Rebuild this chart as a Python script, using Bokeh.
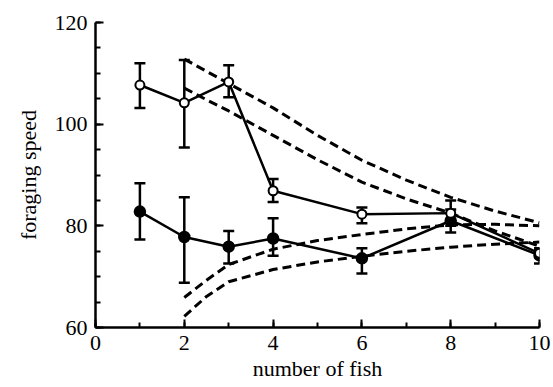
from bokeh.plotting import figure
from bokeh.models import ColumnDataSource, Whisker, TeeHead, Range1d, SingleIntervalTicker
from bokeh.embed import file_html
from bokeh.resources import INLINE

# data
fish = [1, 2, 3, 4, 6, 8, 10]
open_mean = [107.7, 104.2, 108.3, 86.9, 82.3, 82.5, 74.6]
open_upper = [112.0, 112.6, 111.6, 89.2, 83.6, 85.0, 75.4]
open_lower = [103.2, 95.4, 105.3, 84.7, 80.5, 80.0, 73.8]

filled_mean = [82.8, 77.8, 75.9, 77.5, 73.6, 81.0, 74.2]
filled_upper = [88.4, 85.6, 79.0, 81.5, 75.6, 83.2, 75.6]
filled_lower = [77.3, 68.8, 72.6, 74.1, 70.6, 78.7, 72.6]

curve_x = [2, 2.5, 3, 4, 5, 6, 7, 8, 9, 10]
curve_a = [112.8, 110.4, 108.0, 103.2, 97.8, 92.9, 89.0, 85.6, 82.9, 80.6]
curve_b = [107.1, 104.8, 102.6, 97.8, 93.0, 88.6, 85.3, 82.5, 79.0, 76.0]
curve_c = [65.9, 69.3, 72.4, 75.4, 77.1, 78.3, 79.4, 80.2, 80.3, 80.0]
curve_d = [62.2, 66.1, 69.0, 71.4, 72.9, 74.0, 75.0, 75.8, 76.4, 76.8]

x_label = "number of fish"
y_label = "foraging speed"

FONT = "Liberation Serif"

p = figure(width=553, height=387, output_backend="svg", toolbar_location=None,
           x_range=Range1d(0, 10), y_range=Range1d(60, 120),
           min_border_left=95, min_border_right=14, min_border_top=22, min_border_bottom=60)
p.outline_line_color = None
p.xgrid.visible = False
p.ygrid.visible = False
p.background_fill_color = "white"

for cy in [curve_a, curve_b, curve_c, curve_d]:
    p.line(curve_x, cy, line_color="black", line_width=3, line_dash="9 5")

p.line(fish, open_mean, line_color="black", line_width=2.5)
p.line(fish, filled_mean, line_color="black", line_width=2.5)

for up, lo in [(open_upper, open_lower), (filled_upper, filled_lower)]:
    src = ColumnDataSource(dict(x=fish, upper=up, lower=lo))
    w = Whisker(base="x", upper="upper", lower="lower", source=src,
                line_color="black", line_width=2.5,
                upper_head=TeeHead(size=11, line_width=2.5, line_color="black"),
                lower_head=TeeHead(size=11, line_width=2.5, line_color="black"))
    p.add_layout(w)

p.scatter(fish, filled_mean, size=11, fill_color="black", line_color="black", line_width=1.5)
p.scatter(fish, open_mean, size=9, fill_color="white", line_color="black", line_width=2)

for ax in (p.xaxis[0], p.yaxis[0]):
    ax.axis_line_width = 2.5
    ax.axis_line_color = "black"
    ax.major_tick_in = 8
    ax.major_tick_out = 0
    ax.minor_tick_in = 5
    ax.minor_tick_out = 0
    ax.major_tick_line_width = 2
    ax.minor_tick_line_width = 2
    ax.major_label_text_font = FONT
    ax.major_label_text_font_size = "22px"
    ax.major_label_text_color = "black"
    ax.axis_label_text_font = FONT
    ax.axis_label_text_font_size = "22px"
    ax.axis_label_text_font_style = "normal"
    ax.axis_label_text_color = "black"

p.xaxis[0].ticker = SingleIntervalTicker(interval=2, num_minor_ticks=2)
p.yaxis[0].ticker = SingleIntervalTicker(interval=20, num_minor_ticks=4)
p.xaxis[0].axis_label = x_label
p.yaxis[0].axis_label = y_label
p.xaxis[0].major_label_standoff = 8
p.xaxis[0].axis_label_standoff = 3
p.yaxis[0].major_label_standoff = 8
p.yaxis[0].axis_label_standoff = 11

open("out.html", "w").write(file_html(p, INLINE))
